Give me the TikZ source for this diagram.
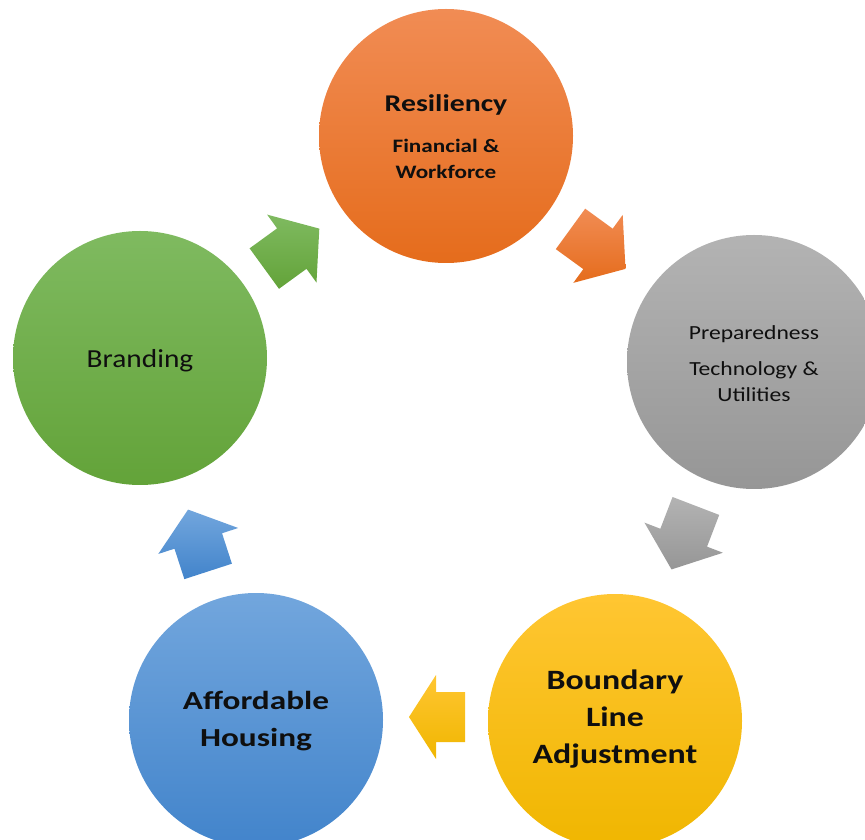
\documentclass[tikz,border=0pt]{standalone}
\usepackage{fontspec}
\setmainfont{Carlito}
\usetikzlibrary{calc}
\definecolor{orTop}{RGB}{241,140,84}
\definecolor{orBot}{RGB}{229,108,28}
\definecolor{grTop}{RGB}{179,179,179}
\definecolor{grBot}{RGB}{150,150,150}
\definecolor{yeTop}{RGB}{255,198,50}
\definecolor{yeBot}{RGB}{240,182,0}
\definecolor{blTop}{RGB}{114,166,221}
\definecolor{blBot}{RGB}{66,132,203}
\definecolor{gnTop}{RGB}{127,186,96}
\definecolor{gnBot}{RGB}{99,163,57}
\definecolor{txt}{RGB}{15,15,15}
% #1 cx, #2 cy, #3 angle, #4 length, #5 head length, #6 top colour, #7 bottom colour
\newcommand{\cycarrow}[7]{%
\path[top color=#6,bottom color=#7]
 ([shift={(#1,#2)},rotate=#3]{-#4/2},25)
 -- ([shift={(#1,#2)},rotate=#3]{#4/2-#5},25)
 -- ([shift={(#1,#2)},rotate=#3]{#4/2-#5},42)
 -- ([shift={(#1,#2)},rotate=#3]{#4/2},0)
 -- ([shift={(#1,#2)},rotate=#3]{#4/2-#5},-42)
 -- ([shift={(#1,#2)},rotate=#3]{#4/2-#5},-25)
 -- ([shift={(#1,#2)},rotate=#3]{-#4/2},-25) -- cycle;}
\newcommand{\wide}[2]{\scalebox{#1}[1]{#2}}
\begin{document}
\begin{tikzpicture}[x=1pt,y=1pt,
  circ/.style={circle, inner sep=0pt, minimum size=254pt},
  lbl/.style={text=txt, inner sep=0pt, anchor=base}]
\useasboundingbox (0,0) rectangle (865,839);
\clip (0,0) rectangle (865,839);
% circles
\node[circ, top color=orTop, bottom color=orBot] (res) at (446,703) {};
\node[circ, top color=grTop, bottom color=grBot] (prep) at (754,477) {};
\node[circ, top color=yeTop, bottom color=yeBot] (bound) at (615,118) {};
\node[circ, top color=blTop, bottom color=blBot] (aff) at (256,119) {};
\node[circ, top color=gnTop, bottom color=gnBot] (brand) at (140,481) {};
% texts
\node[lbl, font=\bfseries\fontsize{24}{28}\selectfont] (resA) at ($(res)+(0,24)$) {\wide{1.24}{Resiliency}};
\node[lbl, font=\bfseries\fontsize{19}{22}\selectfont] (resB) at ($(res)+(0,-17)$) {\wide{1.22}{Financial \&}};
\node[lbl, font=\bfseries\fontsize{19}{22}\selectfont] (resC) at ($(res)+(0,-43)$) {\wide{1.22}{Workforce}};
\node[lbl, font=\fontsize{20}{24}\selectfont] (prepA) at ($(prep)+(0,22)$) {\wide{1.18}{Preparedness}};
\node[lbl, font=\fontsize{20}{24}\selectfont] (prepB) at ($(prep)+(0,-14)$) {\wide{1.18}{Technology \&}};
\node[lbl, font=\fontsize{20}{24}\selectfont] (prepC) at ($(prep)+(0,-40)$) {\wide{1.18}{Utilities}};
\node[lbl, font=\bfseries\fontsize{28}{32}\selectfont] (boundA) at ($(bound)+(0,32)$) {\wide{1.21}{Boundary}};
\node[lbl, font=\bfseries\fontsize{28}{32}\selectfont] (boundB) at ($(bound)+(0,-5)$) {\wide{1.21}{Line}};
\node[lbl, font=\bfseries\fontsize{28}{32}\selectfont] (boundC) at ($(bound)+(0,-42)$) {\wide{1.21}{Adjustment}};
\node[lbl, font=\bfseries\fontsize{26}{30}\selectfont] (affA) at ($(aff)+(0,11)$) {\wide{1.28}{Affordable}};
\node[lbl, font=\bfseries\fontsize{26}{30}\selectfont] (affB) at ($(aff)+(0,-26)$) {\wide{1.28}{Housing}};
\node[lbl, font=\fontsize{26}{30}\selectfont] (brandA) at ($(brand)+(0,-10)$) {\wide{1.13}{Branding}};
% arrows
\cycarrow{291.8}{590.4}{36}{68}{34}{gnTop}{gnBot}
\cycarrow{598}{590.1}{-36}{68}{34}{orTop}{orBot}
\cycarrow{683.7}{301.3}{-111}{68}{34}{grTop}{grBot}
\cycarrow{437}{122}{180}{56}{27}{yeTop}{yeBot}
\cycarrow{198.1}{298.5}{108}{65}{33}{blTop}{blBot}
\end{tikzpicture}
\end{document}
